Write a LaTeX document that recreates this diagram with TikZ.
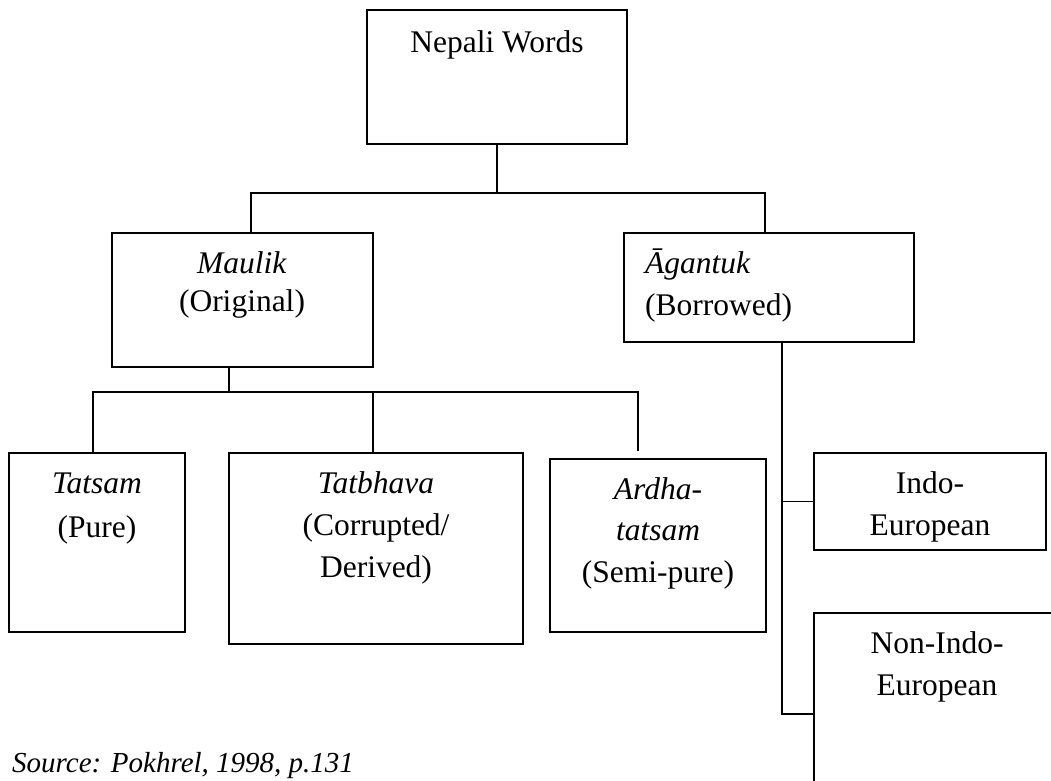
\documentclass[tikz,border=0pt]{standalone}
\usepackage{fontspec}
\setmainfont{Liberation Serif}
\begin{document}
\begin{tikzpicture}[x=1pt,y=-1pt,
  box/.style={draw=black,line width=2pt,rectangle,inner sep=0pt,fill=none},
  conn/.style={draw=black,line width=1.8pt},
  lbl/.style={inner sep=0pt,anchor=base,font=\fontsize{31.5}{38}\selectfont},
  lblw/.style={lbl,anchor=base west},
  src/.style={inner sep=0pt,anchor=base west,font=\fontsize{29}{34}\selectfont\itshape}]
\clip (0,0) rectangle (1051,780);
\fill[white] (0,0) rectangle (1051,780);
% boxes
\node[box,minimum width=260pt,minimum height=134pt] (nw) at (497,77) {};
\node[box,minimum width=261pt,minimum height=134pt] (ml) at (242.5,300) {};
\node[box,minimum width=290pt,minimum height=109pt] (ag) at (769,287.5) {};
\node[box,minimum width=176pt,minimum height=179pt] (ts) at (97,542.5) {};
\node[box,minimum width=294pt,minimum height=191pt] (tb) at (376,548.5) {};
\node[box,minimum width=216pt,minimum height=173pt] (ad) at (658,545.5) {};
\node[box,minimum width=232pt,minimum height=97pt] (ie) at (930,501.5) {};
\node[box,minimum width=246pt,minimum height=180pt] (ni) at (937,703) {};
% texts
\node[lbl] (nwt) at (497,52) {Nepali Words};
\node[lbl] (mlt1) at (242,273) {\textit{Maulik}};
\node[lbl] (mlt2) at (242,311) {(Original)};
\node[lblw] (agt1) at (645,273) {\textit{Āgantuk}};
\node[lblw] (agt2) at (645,315) {(Borrowed)};
\node[lbl] (tst1) at (97,493) {\textit{Tatsam}};
\node[lbl] (tst2) at (97,537) {(Pure)};
\node[lbl] (tbt1) at (376,493) {\textit{Tatbhava}};
\node[lbl] (tbt2) at (376,535) {(Corrupted/};
\node[lbl] (tbt3) at (376,577) {Derived)};
\node[lbl] (adt1) at (658,499) {\textit{Ardha-}};
\node[lbl] (adt2) at (658,540) {\textit{tatsam}};
\node[lbl] (adt3) at (658,582) {(Semi-pure)};
\node[lbl] (iet1) at (930,493) {Indo-};
\node[lbl] (iet2) at (930,535) {European};
\node[lbl] (nit1) at (937,653) {Non-Indo-};
\node[lbl] (nit2) at (937,695) {European};
\node[src] (source) at (12,772) {Source: Pokhrel, 1998, p.131};
% connectors
\coordinate (j1) at (497,193);
\draw[conn] (nw.south) -- (j1);
\draw[conn] ([xshift=8.5pt]ml.north) |- (j1) -| ([xshift=-4pt]ag.north);
\coordinate (j2) at (229,392);
\draw[conn] ([xshift=-13.5pt]ml.south) -- (j2);
\draw[conn] ([xshift=-4pt]ts.north) |- (j2) -| ([xshift=-20pt,yshift=7pt]ad.north);
\draw[conn] ([xshift=-3pt]tb.north) -- ([xshift=-3pt]tb.north |- j2);
\coordinate (j3) at ([xshift=13pt]ag.south);
\draw[conn] (j3) |- ([yshift=-11pt]ni.west);
\draw[conn] (ie.west) -- (ie.west -| j3);
\end{tikzpicture}
\end{document}
